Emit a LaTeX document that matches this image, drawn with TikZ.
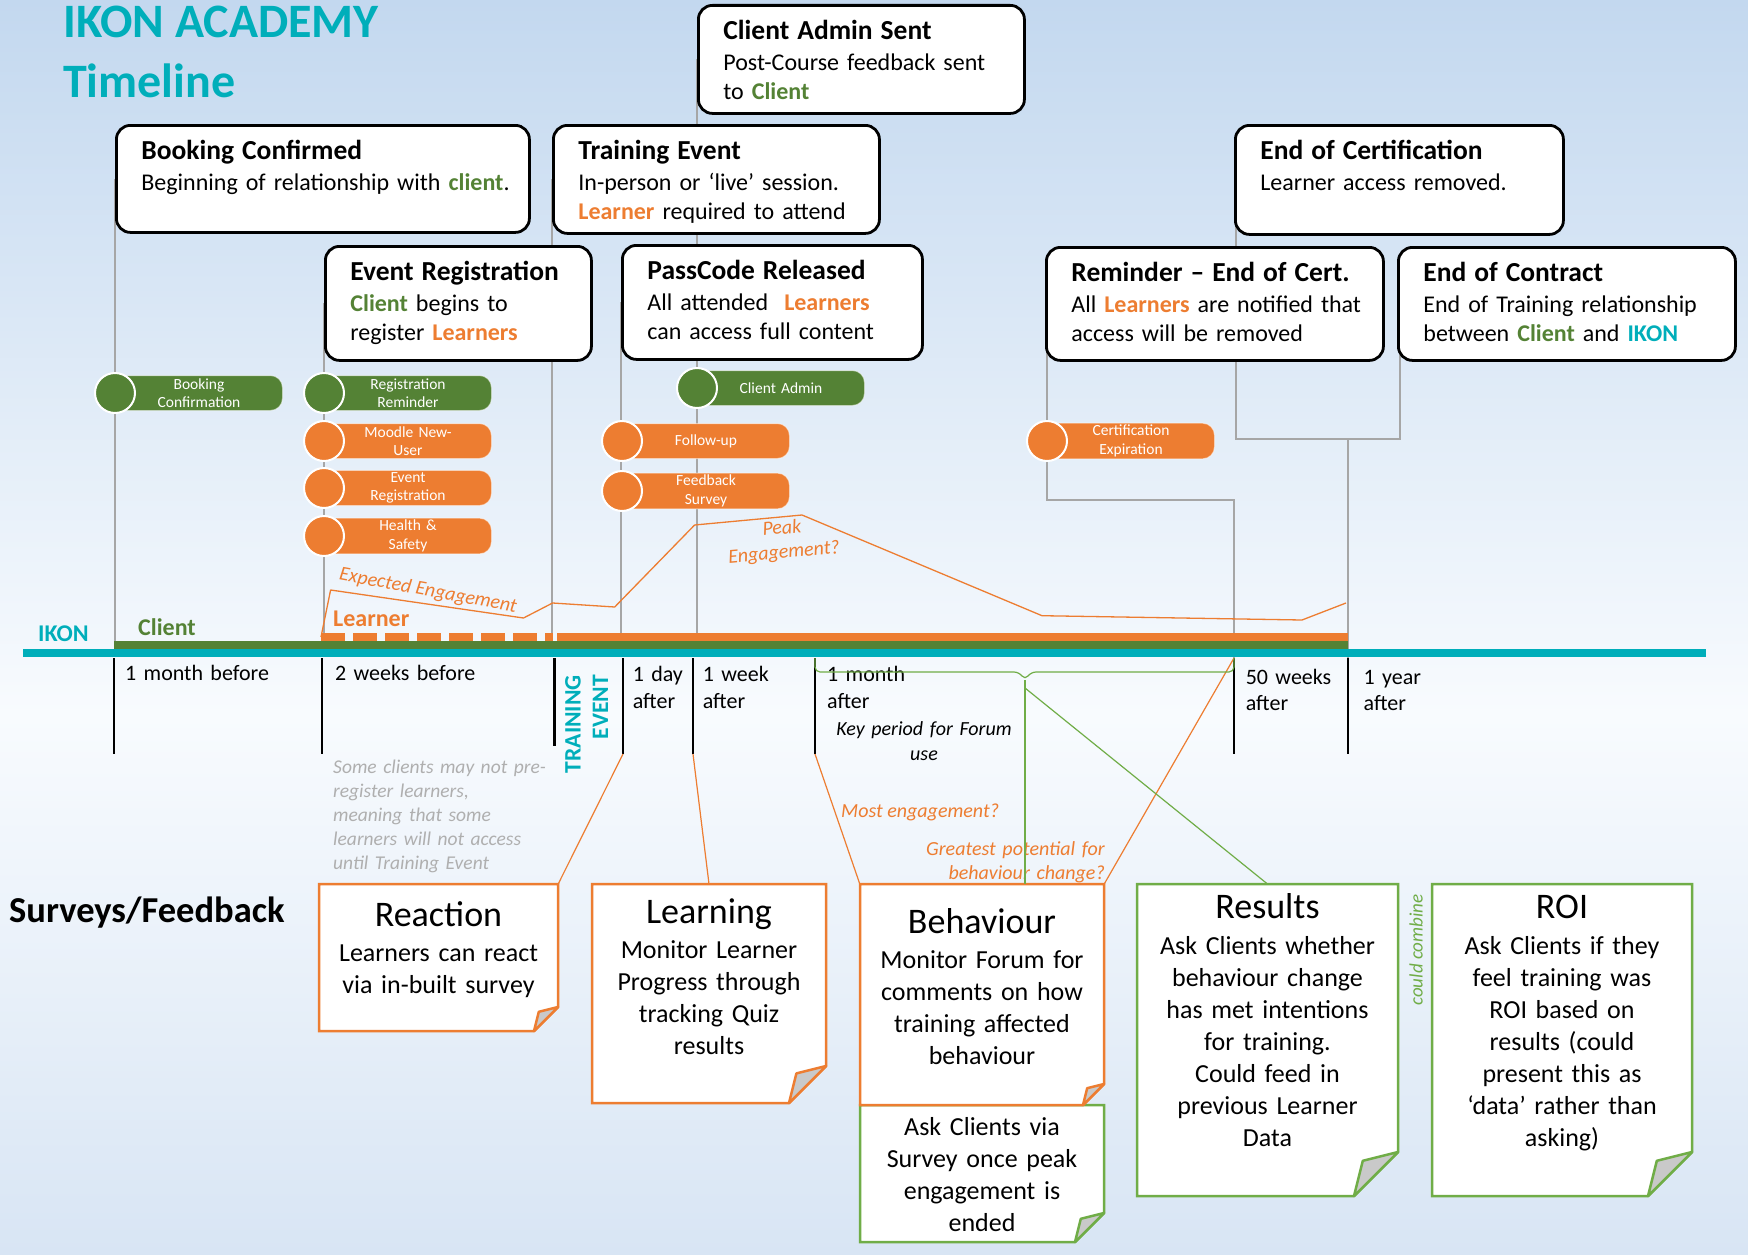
\documentclass[tikz,border=0pt]{standalone}
\usepackage{fontspec}
\setmainfont{Carlito}
\usetikzlibrary{positioning}
\usetikzlibrary{calc}
\usetikzlibrary{backgrounds}

\definecolor{ikonteal}{HTML}{00AEBA}
\definecolor{clientgreen}{HTML}{548235}
\definecolor{learnerorange}{HTML}{ED7D31}
\definecolor{linkgreen}{HTML}{70AD47}
\definecolor{stemgrey}{HTML}{A6A6A6}
\definecolor{notegrey}{HTML}{AFAFAF}
\definecolor{foldgrey}{HTML}{C9C9C9}
\definecolor{bgtop}{HTML}{C3D8EF}
\definecolor{bgmid}{HTML}{F8FBFE}
\definecolor{bgbot}{HTML}{D8E5F4}

\tikzset{
    timeline/.style={
            x=1pt,y=-1pt,
            stem/.style={stemgrey,line width=1.2pt},
            tickmark/.style={black,line width=2.4pt},
            engage/.style={learnerorange,line width=1.3pt,line join=round},
            olink/.style={learnerorange,line width=1.2pt},
            glink/.style={linkgreen,line width=1.2pt},
            event/.style={draw=black,line width=2.8pt,fill=white,rounded corners=14pt,
                inner sep=0pt,align=left,anchor=north west,text height=34pt,
                font=\fontsize{24}{29}\selectfont},
            pilldot/.style={circle,draw=white,line width=2pt,minimum size=40pt,inner sep=0pt},
            pillbar/.style={rectangle,rounded corners=12pt,draw=white,draw opacity=0.5,line width=1pt,
                minimum width=167pt,minimum height=35pt,text width=150pt,inner sep=2pt,
                align=center,text=white,anchor=west,font=\fontsize{15.5}{18.5}\selectfont},
            whenlabel/.style={anchor=base west,inner sep=0pt,text width=170pt,align=left,
                font=\fontsize{22}{26.6}\selectfont},
            remark/.style={inner sep=0pt,text=learnerorange,font=\fontsize{20}{24.3}\selectfont\itshape},
            sheettext/.style={inner sep=0pt,align=center,anchor=north,font=\fontsize{26}{32}\selectfont},
            sheet/.style={line width=2.5pt,fill=white},
            sheetfold/.style={line width=2.5pt,fill=foldgrey,line join=round}
        }
    }
\newcommand{\evhead}[1]{{\fontsize{27.5}{29}\selectfont\bfseries #1}}
\newcommand{\boxpad}{\hspace*{25pt}}
\newcommand{\clientword}[1]{\textcolor{clientgreen}{\bfseries #1}}
\newcommand{\learnerword}[1]{\textcolor{learnerorange}{\bfseries #1}}
\newcommand{\sheethead}[1]{{\fontsize{36}{32}\selectfont #1}}
\newcommand{\drawsheet}[6]{% x0, y0, x1, y1, fold, colour
    \draw[sheet,draw=#6] (#1,#2) -- (#3,#2) -- (#3,#4-#5) -- (#3-#5,#4) -- (#1,#4) -- cycle;
    \draw[sheetfold,draw=#6] (#3-#5,#4) -- (#3-0.8*#5,#4-0.8*#5) -- (#3,#4-#5) -- cycle;
}

\begin{document}
\begin{tikzpicture}[timeline]
\begin{scope}[on background layer]
    \shade[top color=bgtop,bottom color=bgmid] (0,0) rectangle (1748,715);
    \shade[top color=bgmid,bottom color=bgbot] (0,715) rectangle (1748,1255);
\end{scope}
\useasboundingbox (0,0) rectangle (1748,1255);

% title
\node[anchor=base west,inner sep=0pt,text=ikonteal,font=\fontsize{48}{50}\selectfont\bfseries] (title) at (63,38) {IKON ACADEMY};
\node[anchor=base west,inner sep=0pt,text=ikonteal,font=\fontsize{48}{50}\selectfont\bfseries] (subtitle) at (63,97) {Timeline};

% milestones
\node[event,text width=413pt,text depth=73pt] (book) at (115,124) {\boxpad\evhead{Booking Confirmed}\\[2pt]\boxpad Beginning of relationship with \clientword{client}.};
\node[event,text width=326pt,text depth=74pt] (cas) at (697,4) {\boxpad\evhead{Client Admin Sent}\\[2pt]\boxpad Post-Course feedback sent\\\boxpad to \clientword{Client}};
\node[event,text width=326pt,text depth=74pt] (train) at (552,124) {\boxpad\evhead{Training Event}\\[2pt]\boxpad In-person or ‘live’ session.\\\boxpad\learnerword{Learner} required to attend};
\node[event,text width=266pt,text depth=80pt] (evreg) at (324,245) {\boxpad\evhead{Event Registration}\\[2pt]\boxpad\clientword{Client} begins to\\\boxpad register \learnerword{Learners}};
\node[event,text width=300pt,text depth=80pt] (pass) at (621,244) {\boxpad\evhead{PassCode Released}\\[2pt]\boxpad All attended \ \learnerword{Learners}\\\boxpad can access full content};
\node[event,text width=328pt,text depth=75pt] (ecert) at (1234,124) {\boxpad\evhead{End of Certification}\\[2pt]\boxpad Learner access removed.};
\node[event,text width=337pt,text depth=79pt] (rem) at (1045,246) {\boxpad\evhead{Reminder – End of Cert.}\\[2pt]\boxpad All \learnerword{Learners} are notified that\\\boxpad access will be removed};
\node[event,text width=337pt,text depth=79pt] (econ) at (1397,246) {\boxpad\evhead{End of Contract}\\[2pt]\boxpad End of Training relationship\\\boxpad between \clientword{Client} and \textcolor{ikonteal}{\bfseries IKON}};

% ticks on the axis
\coordinate (axis) at (0,649);
\foreach \nm/\x in {mbefore/114,wbefore/322,dafter/623,wafter/693,mafter/815,wkafter/1234,yafter/1348}{
    \coordinate (\nm-top) at (\x,658);
    \coordinate (\nm-bot) at (\x,754);
    \draw[tickmark] (\nm-top) -- (\nm-bot);
}
\coordinate (tevent-top) at (554.5,658);
\coordinate (tevent-bot) at (554.5,746);
\draw[tickmark] (tevent-top) -- (tevent-bot);

% stems from the milestones
\coordinate (remlink) at (1047,500);
\coordinate (certlink) at (1236,439);
\begin{scope}[on background layer]
    \draw[stem] (book.west) -- (book.west |- axis);
    \draw[stem] (evreg.west) -- (evreg.west |- axis);
    \draw[stem] (train.west) -- (train.west |- axis);
    \draw[stem] (cas.west) -- (cas.west |- axis);
    \draw[stem] (pass.west) -- (pass.west |- axis);
    \draw[stem] ([xshift=2pt]rem.west) -- (remlink) -| (wkafter-top);
    \draw[stem] ([xshift=2pt]ecert.west) -- (certlink) -| ([xshift=3pt]econ.west);
    \draw[stem] (certlink -| yafter-top) -- (yafter-top);
\end{scope}

% engagement curve
\draw[engage] (321,637) -- (330.6,590) -- (523.5,618) -- (552.6,603) -- (614.7,607) -- (694.6,525)
    -- (802,515) -- (1042,615.7) -- (1302,620) -- (1346,603);
\node[remark,rotate=-10.4] (expect) at (428,591) {Expected Engagement};
\node[remark,rotate=5,align=center,text width=150pt] (peak) at (783,541) {Peak\\Engagement?};

% axis bars
\fill[ikonteal] (23,649) rectangle (1706,657);
\fill[clientgreen] (114,641) rectangle (1348,649);
\foreach \i in {0,...,6}
    \fill[learnerorange] (321+32*\i,633) rectangle ++(24.2,8);
\fill[learnerorange] (545,633) rectangle (553,641);
\fill[learnerorange] (556.5,633) rectangle (1348,641);
\node[anchor=base west,inner sep=0pt,text=ikonteal,font=\fontsize{24}{26}\selectfont\bfseries] (ikon) at (38,641) {IKON};
\node[anchor=base west,inner sep=0pt,text=clientgreen,font=\fontsize{24}{26}\selectfont\bfseries] (client) at (138,635) {Client};
\node[anchor=base west,inner sep=0pt,text=learnerorange,font=\fontsize{24}{26}\selectfont\bfseries] (learner) at (333,626) {Learner};

% communications
\foreach \cx/\cy/\col/\txt/\nm in {
    115/393/clientgreen/{Booking\\Confirmation}/bookmail,
    324/393/clientgreen/{Registration\\Reminder}/remmail,
    324/441/learnerorange/{Moodle New-\\User}/moodle,
    324/488/learnerorange/{Event\\Registration}/regmail,
    324/536/learnerorange/{Health \&\\Safety}/safety,
    697/388/clientgreen/{Client Admin}/adminmail,
    622/441/learnerorange/{Follow-up}/follow,
    622/491/learnerorange/{Feedback\\Survey}/feedback,
    1047/441/learnerorange/{Certification\\Expiration}/expiry}
{
    \node[pillbar,fill=\col] (\nm) at (\cx,\cy) {\txt};
    \node[pilldot,fill=\col] (\nm-dot) at (\cx,\cy) {};
}

% tick labels
\node[whenlabel] (l-mb) at (125,680) {1 month before};
\node[whenlabel] (l-wb) at (335,680) {2 weeks before};
\node[whenlabel] (l-da) at (632.6,681.7) {1 day\\after};
\node[whenlabel] (l-wa) at (702.6,681.7) {1 week\\after};
\node[whenlabel] (l-ma) at (827,681.7) {1 month\\after};
\node[whenlabel] (l-wk) at (1245.6,684) {50 weeks\\after};
\node[whenlabel] (l-ya) at (1363.5,684) {1 year\\after};
\node[rotate=90,anchor=north east,inner sep=0pt,text width=110pt,align=right,text=ikonteal,
    font=\fontsize{23.6}{27.5}\selectfont\bfseries] (tevent) at (565,675) {TRAINING\\EVENT};
\node[anchor=base,inner sep=0pt,text width=200pt,align=center,font=\fontsize{20}{25}\selectfont\itshape] (forum) at (924,735) {Key period for Forum\\use};
\node[anchor=base west,inner sep=0pt,text width=240pt,align=left,text=notegrey,
    font=\fontsize{19.5}{24.2}\selectfont\itshape] (prereg) at (333,773) {Some clients may not pre-\\register learners,\\meaning that some\\learners will not access\\until Training Event};
\node[remark,anchor=base west] (most) at (841,817) {Most engagement?};
\node[remark,anchor=base east,text width=200pt,align=right] (greatest) at (1105,855) {Greatest potential for\\behaviour change?};

% surveys
\node[anchor=base west,inner sep=0pt,font=\fontsize{36.5}{40}\selectfont\bfseries] (surveys) at (9,922) {Surveys/Feedback};
\drawsheet{319}{884}{558}{1031}{24}{learnerorange}
\node[sheettext,text width=239pt,text height=42pt,text depth=105pt] (react) at (438.5,884) {\sheethead{Reaction}\\[3pt] Learners can react\\ via in-built survey};
\drawsheet{592}{884}{826}{1103}{37}{learnerorange}
\node[sheettext,text width=234pt,text height=39pt,text depth=180pt] (learn) at (709,884) {\sheethead{Learning}\\[3pt] Monitor Learner\\ Progress through\\ tracking Quiz\\ results};
\drawsheet{860}{1105}{1104}{1242}{29}{linkgreen}
\node[sheettext,text width=244pt,text height=30pt,text depth=107pt] (ask) at (982,1105) {Ask Clients via\\ Survey once peak\\ engagement is\\ ended};
\drawsheet{860}{884}{1104}{1105}{21}{learnerorange}
\node[sheettext,text width=244pt,text height=49pt,text depth=172pt] (beh) at (982,884) {\sheethead{Behaviour}\\[3pt] Monitor Forum for\\ comments on how\\ training affected\\ behaviour};
\drawsheet{1137}{884}{1398}{1196}{44}{linkgreen}
\node[sheettext,text width=261pt,text height=34pt,text depth=278pt] (res) at (1267.5,884) {\sheethead{Results}\\[4pt] Ask Clients whether\\ behaviour change\\ has met intentions\\ for training.\\ Could feed in\\ previous Learner\\ Data};
\drawsheet{1432}{884}{1692}{1196}{44}{linkgreen}
\node[sheettext,text width=260pt,text height=34pt,text depth=278pt] (roi) at (1562,884) {\sheethead{ROI}\\[4pt] Ask Clients if they\\ feel training was\\ ROI based on\\ results (could\\ present this as\\ ‘data’ rather than\\ asking)};
\node[rotate=90,inner sep=0pt,text=linkgreen,font=\fontsize{19}{22}\selectfont\itshape] (combine) at (1416,950) {could combine};

% links to the surveys
\coordinate (brace) at (1025,680);
\draw[olink] (dafter-bot) -- (react.north east);
\draw[olink] (wafter-bot) -- (learn.north);
\draw[olink] (mafter-bot) -- (beh.north west);
\draw[olink] (wkafter-top) -- (beh.north east);
\draw[glink,rounded corners=5pt] (mafter-top) |- (1019,672) -- (brace) -- (1031,672) -| (wkafter-top);
\draw[glink] (brace) -- (brace |- beh.north);
\draw[glink] ($(brace)+(0,8)$) -- (res.north);
\end{tikzpicture}
\end{document}
